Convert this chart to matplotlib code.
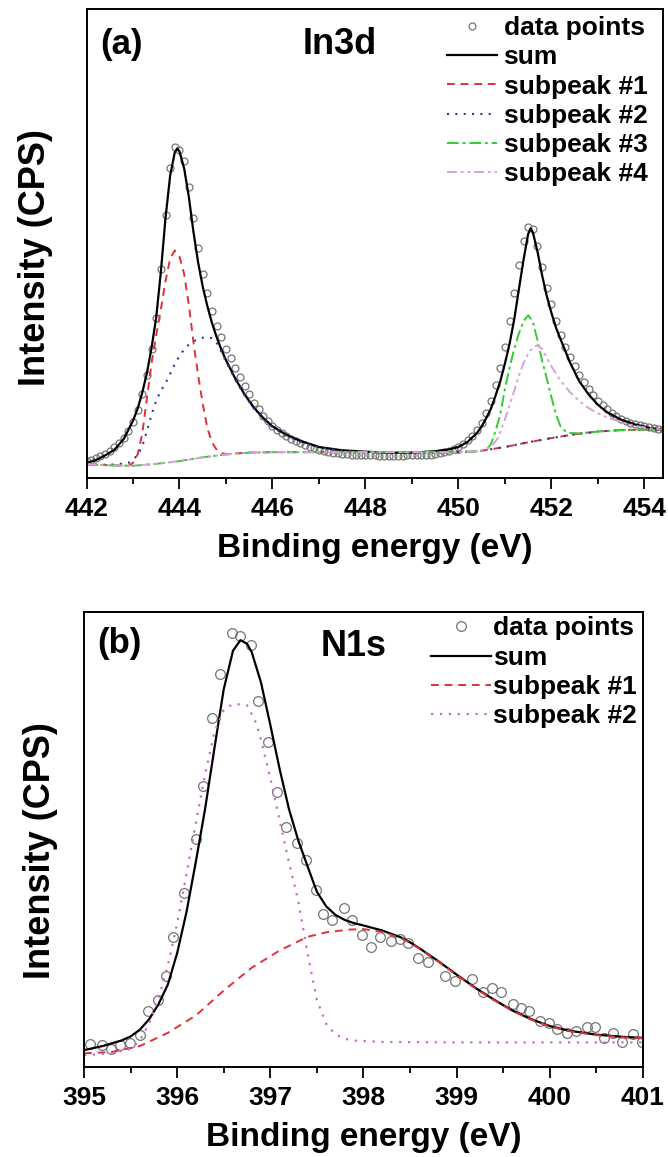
import numpy as np
import matplotlib
matplotlib.use("Agg")
import matplotlib.pyplot as plt
from matplotlib.ticker import MultipleLocator

plt.rcParams['font.family'] = ['Liberation Sans', 'DejaVu Sans']
plt.rcParams['font.weight'] = 'bold'

# ---------------- (a) In3d ----------------
# measured points, spectrometer step 0.1 eV starting at 442.0 eV
IN_X = np.round(np.arange(442.0, 454.45, 0.1), 2)
IN_Y = [3.6, 3.9, 4.3, 4.7, 5.2, 5.8, 6.5, 7.4, 8.6, 10.1,
        12.0, 14.5, 17.8, 22.0, 27.5, 34.0, 44.5, 56.0, 66.0, 70.5,
        70.0, 67.5, 62.0, 55.5, 49.0, 43.5, 39.5, 35.5, 32.5, 30.0,
        27.5, 25.5, 23.5, 21.5, 19.5, 17.8, 16.0, 14.6, 13.2, 12.1,
        11.1, 10.3, 9.6, 9.0, 8.4, 7.9, 7.4, 7.0, 6.6, 6.3,
        6.0, 5.8, 5.6, 5.4, 5.3, 5.2, 5.1, 5.0, 4.9, 4.9,
        4.8, 4.8, 4.8, 4.7, 4.7, 4.7, 4.7, 4.7, 4.7, 4.8,
        4.8, 4.8, 4.9, 4.9, 5.0, 5.1, 5.3, 5.5, 5.8, 6.1,
        6.6, 7.2, 8.0, 8.9, 10.2, 11.8, 13.9, 16.5, 19.8, 23.5,
        28.0, 33.5, 39.5, 45.5, 50.5, 53.5, 53.0, 49.5, 45.0, 40.5,
        37.0, 33.5, 30.5, 28.0, 25.8, 23.8, 22.0, 20.4, 19.0, 17.7,
        16.5, 15.5, 14.6, 13.9, 13.2, 12.6, 12.2, 11.8, 11.5, 11.2,
        11.0, 10.8, 10.6, 10.5, 10.4]

IN_SUM = [(442.0, 3.2), (442.2, 3.8), (442.4, 4.8), (442.6, 6.0), (442.8, 8.3),
          (443.0, 12.2), (443.1, 14.8), (443.2, 18.2), (443.3, 22.4), (443.4, 27.8),
          (443.5, 34.3), (443.6, 44.0), (443.7, 55.5), (443.8, 64.5), (443.9, 69.5),
          (443.95, 70.2), (444.0, 69.6), (444.1, 66.0), (444.2, 60.0), (444.3, 52.5),
          (444.4, 46.0), (444.5, 40.8), (444.6, 36.6), (444.7, 33.0), (444.8, 30.0),
          (444.9, 27.4), (445.0, 25.1), (445.2, 21.2), (445.4, 17.8), (445.6, 15.0),
          (445.8, 12.8), (446.0, 11.0), (446.3, 9.2), (446.6, 7.9), (447.0, 6.6),
          (447.5, 5.9), (448.0, 5.6), (448.5, 5.4), (449.0, 5.4), (449.5, 5.7),
          (449.8, 6.1), (450.0, 6.6), (450.2, 7.7), (450.4, 9.6), (450.5, 11.0),
          (450.6, 12.8), (450.7, 14.8), (450.8, 17.6), (450.9, 20.6), (451.0, 24.4),
          (451.1, 28.6), (451.2, 33.8), (451.3, 40.2), (451.4, 46.5), (451.5, 52.0),
          (451.55, 53.2), (451.6, 52.4), (451.7, 48.3), (451.8, 43.2), (451.9, 38.8),
          (452.0, 35.2), (452.1, 32.0), (452.2, 29.5), (452.4, 24.6), (452.6, 20.6),
          (452.8, 17.8), (453.0, 15.6), (453.2, 14.0), (453.5, 12.4), (453.8, 11.4),
          (454.1, 10.7), (454.4, 10.2)]

IN_SUB1 = [(442.0, 2.9), (442.5, 2.7), (442.9, 2.6), (443.0, 3.2), (443.1, 5.0),
           (443.2, 9.5), (443.3, 17.0), (443.4, 24.5), (443.5, 30.5), (443.6, 36.0),
           (443.7, 42.0), (443.8, 46.8), (443.9, 48.5), (444.0, 47.2), (444.1, 43.5),
           (444.2, 37.0), (444.3, 29.0), (444.4, 22.0), (444.5, 15.8), (444.6, 10.6),
           (444.7, 7.6), (444.8, 6.0), (444.9, 5.3), (445.0, 5.1), (445.5, 5.4),
           (446.0, 5.5), (447.0, 5.5), (448.0, 5.5), (449.0, 5.5), (450.0, 5.4),
           (450.5, 5.8), (451.0, 6.6), (451.5, 7.6), (452.0, 8.5), (452.5, 9.3),
           (453.0, 9.9), (453.5, 10.2), (454.0, 10.3), (454.4, 10.3)]

IN_SUB2 = [(442.0, 2.9), (442.5, 2.8), (442.9, 3.2), (443.1, 4.8), (443.2, 6.8),
           (443.3, 10.0), (443.4, 13.5), (443.5, 16.5), (443.6, 18.6), (443.7, 20.2),
           (443.8, 22.2), (443.9, 24.3), (444.0, 26.0), (444.1, 27.4), (444.2, 28.4),
           (444.3, 29.1), (444.4, 29.6), (444.5, 29.9), (444.6, 30.0), (444.7, 29.8),
           (444.8, 28.8), (444.9, 26.9), (445.0, 24.8), (445.2, 20.9), (445.4, 17.6),
           (445.6, 14.8), (445.8, 12.6), (446.0, 10.8), (446.3, 9.0), (446.6, 7.7),
           (447.0, 6.5), (447.5, 5.8), (448.0, 5.5), (449.0, 5.4), (450.0, 5.5),
           (450.5, 5.8), (451.0, 6.6), (451.5, 7.6), (452.0, 8.5), (452.5, 9.3),
           (453.0, 9.9), (453.5, 10.2), (454.0, 10.3), (454.4, 10.3)]

IN_SUB3 = [(442.0, 2.9), (442.5, 2.7), (443.0, 2.6), (443.5, 3.0), (444.0, 3.6),
           (444.5, 4.4), (445.0, 5.0), (445.5, 5.4), (446.0, 5.5), (447.0, 5.5),
           (448.0, 5.5), (449.0, 5.5), (450.0, 5.5), (450.5, 5.7), (450.6, 6.0),
           (450.7, 7.2), (450.8, 10.1), (450.9, 13.5), (451.0, 19.0), (451.1, 23.5),
           (451.2, 27.5), (451.3, 30.8), (451.4, 33.4), (451.5, 34.7), (451.6, 33.3),
           (451.7, 29.4), (451.8, 25.0), (451.9, 21.2), (452.0, 17.2), (452.1, 13.5),
           (452.2, 10.9), (452.3, 10.0), (452.4, 9.6), (452.6, 9.5), (453.0, 9.9),
           (453.5, 10.2), (454.0, 10.3), (454.4, 10.3)]

IN_SUB4 = [(442.0, 2.9), (442.5, 2.7), (443.0, 2.6), (443.5, 3.0), (444.0, 3.6),
           (444.5, 4.4), (445.0, 5.0), (445.5, 5.4), (446.0, 5.5), (447.0, 5.5),
           (448.0, 5.5), (449.0, 5.5), (450.0, 5.5), (450.5, 5.8), (450.7, 6.6),
           (450.85, 8.5), (451.0, 12.5), (451.1, 15.5), (451.2, 18.6), (451.3, 21.8),
           (451.4, 24.5), (451.5, 26.5), (451.6, 27.8), (451.7, 28.3), (451.8, 27.5),
           (451.9, 25.6), (452.0, 23.8), (452.2, 20.7), (452.4, 18.3), (452.6, 16.4),
           (452.8, 14.9), (453.0, 13.8), (453.2, 12.9), (453.5, 11.9), (453.8, 11.1),
           (454.1, 10.6), (454.4, 10.3)]

# ---------------- (b) N1s ----------------
N_DATA = [(395.07, 5.0), (395.19, 4.8), (395.29, 3.9), (395.39, 4.8), (395.49, 5.3),
          (395.60, 7.1), (395.69, 12.2), (395.79, 14.7), (395.88, 20.1), (395.96, 28.6),
          (396.07, 38.2), (396.20, 50.0), (396.28, 61.8), (396.37, 76.7), (396.46, 86.4),
          (396.59, 95.4), (396.68, 94.7), (396.79, 92.7), (396.87, 80.5), (396.97, 71.4),
          (397.07, 60.5), (397.17, 52.8), (397.29, 49.2), (397.38, 45.4), (397.49, 38.9),
          (397.57, 33.6), (397.66, 32.3), (397.79, 34.9), (397.88, 32.3), (397.98, 29.0),
          (398.08, 26.3), (398.18, 28.6), (398.30, 27.7), (398.39, 28.1), (398.48, 27.3),
          (398.59, 23.9), (398.69, 23.1), (398.87, 20.1), (398.98, 18.9), (399.16, 19.3),
          (399.28, 16.4), (399.38, 17.4), (399.48, 16.4), (399.60, 13.8), (399.69, 13.0),
          (399.78, 12.2), (399.89, 10.1), (399.99, 9.6), (400.08, 8.4), (400.19, 7.5),
          (400.28, 7.9), (400.40, 8.8), (400.49, 8.8), (400.58, 6.4), (400.68, 7.4),
          (400.78, 5.6), (400.89, 7.3), (400.99, 5.6)]

N_SUM = [(395.0, 3.7), (395.2, 4.6), (395.4, 5.8), (395.5, 6.7), (395.6, 8.2),
         (395.7, 10.5), (395.8, 13.8), (395.9, 18.1), (396.0, 25.0), (396.1, 34.0),
         (396.2, 45.0), (396.3, 56.7), (396.4, 70.0), (396.5, 83.0), (396.6, 91.5),
         (396.68, 93.8), (396.75, 93.0), (396.8, 91.2), (396.9, 84.5), (397.0, 75.2),
         (397.1, 65.5), (397.2, 56.7), (397.3, 49.8), (397.4, 44.1), (397.5, 38.5),
         (397.6, 35.3), (397.7, 33.4), (397.8, 32.3), (397.9, 31.6), (398.0, 31.1),
         (398.2, 30.0), (398.4, 28.5), (398.5, 27.4), (398.6, 26.1), (398.8, 23.3),
         (399.0, 20.3), (399.2, 17.4), (399.4, 14.8), (399.6, 12.4), (399.8, 10.5),
         (400.0, 9.0), (400.2, 8.0), (400.5, 7.1), (400.8, 6.6), (401.0, 6.4)]

N_SUB1 = [(395.0, 3.0), (395.3, 3.3), (395.6, 4.6), (395.9, 7.5), (396.2, 11.3),
          (396.5, 16.8), (396.8, 21.8), (397.1, 25.6), (397.4, 28.6), (397.6, 29.6),
          (397.85, 30.2), (398.0, 30.3), (398.2, 29.7), (398.4, 28.3), (398.5, 27.3),
          (398.6, 26.0), (398.8, 23.2), (399.0, 20.2), (399.2, 17.3), (399.4, 14.7),
          (399.6, 12.3), (399.8, 10.4), (400.0, 8.9), (400.2, 7.9), (400.5, 7.0),
          (400.8, 6.5), (401.0, 6.3)]

N_SUB2 = [(395.0, 2.6), (395.3, 3.0), (395.5, 4.0), (395.6, 5.8), (395.7, 9.6),
          (395.8, 15.0), (395.9, 22.3), (396.0, 31.5), (396.1, 42.4), (396.2, 53.5),
          (396.3, 64.3), (396.4, 73.5), (396.5, 78.5), (396.6, 79.8), (396.75, 79.5),
          (396.85, 75.5), (396.9, 71.9), (397.0, 63.5), (397.1, 54.2), (397.2, 45.0),
          (397.3, 36.5), (397.4, 25.0), (397.5, 14.7), (397.6, 9.5), (397.7, 7.1),
          (397.8, 6.2), (397.9, 5.8), (398.2, 5.5), (399.0, 5.4), (400.0, 5.4),
          (401.0, 5.4)]


def xy(pairs):
    arr = np.array(pairs)
    return arr[:, 0], arr[:, 1]


def style_axes(ax, xlim, major, minor):
    ax.set_xlim(*xlim)
    ax.set_ylim(0, 100)
    ax.set_yticks([])
    ax.xaxis.set_major_locator(MultipleLocator(major))
    ax.xaxis.set_minor_locator(MultipleLocator(minor))
    ax.tick_params(axis='x', which='major', direction='out', length=8, width=1.3,
                   labelsize=19, pad=6)
    ax.tick_params(axis='x', which='minor', direction='out', length=4, width=1.3)
    for lab in ax.get_xticklabels():
        lab.set_fontweight('bold')
    for sp in ax.spines.values():
        sp.set_linewidth(1.4)
    ax.set_xlabel("Binding energy (eV)", fontsize=24, fontweight='bold', labelpad=8)
    ax.set_ylabel("Intensity (CPS)", fontsize=26, fontweight='bold')


fig = plt.figure(figsize=(6.68, 11.57), dpi=100)

# panel (a)
ax1 = fig.add_axes([0.1295, 0.5869, 0.863, 0.4054])
ax1.plot(IN_X, IN_Y, linestyle='none', marker='o', ms=5, mfc='none', mec='#757575',
         mew=0.9, label='data points')
ax1.plot(*xy(IN_SUM), color='black', lw=1.6, label='sum')
ax1.plot(*xy(IN_SUB1), color='#e0303a', lw=1.4, ls=(0, (4, 3)), label='subpeak #1')
ax1.plot(*xy(IN_SUB2), color='#2b3d9c', lw=1.5, ls=(0, (1, 3)), label='subpeak #2')
ax1.plot(*xy(IN_SUB3), color='#33cc33', lw=1.4, ls=(0, (6, 2, 1.5, 2)), label='subpeak #3')
ax1.plot(*xy(IN_SUB4), color='#d9a0d9', lw=1.4, ls=(0, (5, 2, 1.5, 2, 1.5, 2)),
         label='subpeak #4')
style_axes(ax1, (442, 454.4), 2, 1)
ax1.yaxis.set_label_coords(-0.058, 0.47)
ax1.text(0.06, 0.925, "(a)", transform=ax1.transAxes, fontsize=25, fontweight='bold',
         ha='center', va='center')
ax1.text(0.44, 0.925, "In3d", transform=ax1.transAxes, fontsize=26, fontweight='bold',
         ha='center', va='center')
ax1.legend(loc='upper left', bbox_to_anchor=(0.625, 0.985), frameon=False,
           borderpad=0, borderaxespad=0, handlelength=1.9, handletextpad=0.25,
           labelspacing=0.2, numpoints=1, prop={'weight': 'bold', 'size': 19})

# panel (b)
ax2 = fig.add_axes([0.1257, 0.0778, 0.8368, 0.3933])
ax2.plot(*xy(N_DATA), linestyle='none', marker='o', ms=7, mfc='none', mec='#757575',
         mew=0.9, label='data points')
ax2.plot(*xy(N_SUM), color='black', lw=1.6, label='sum')
ax2.plot(*xy(N_SUB1), color='#e0303a', lw=1.4, ls=(0, (4, 3)), label='subpeak #1')
ax2.plot(*xy(N_SUB2), color='#c46cc8', lw=1.6, ls=(0, (1, 3)), label='subpeak #2')
style_axes(ax2, (395, 401), 1, 0.5)
ax2.yaxis.set_label_coords(-0.047, 0.475)
ax2.text(0.064, 0.93, "(b)", transform=ax2.transAxes, fontsize=25, fontweight='bold',
         ha='center', va='center')
ax2.text(0.483, 0.925, "N1s", transform=ax2.transAxes, fontsize=26, fontweight='bold',
         ha='center', va='center')
ax2.legend(loc='upper left', bbox_to_anchor=(0.62, 0.99), frameon=False,
           borderpad=0, borderaxespad=0, handlelength=2.3, handletextpad=0.05,
           labelspacing=0.2, numpoints=1, prop={'weight': 'bold', 'size': 19})

fig.savefig("out.png", dpi=100)
